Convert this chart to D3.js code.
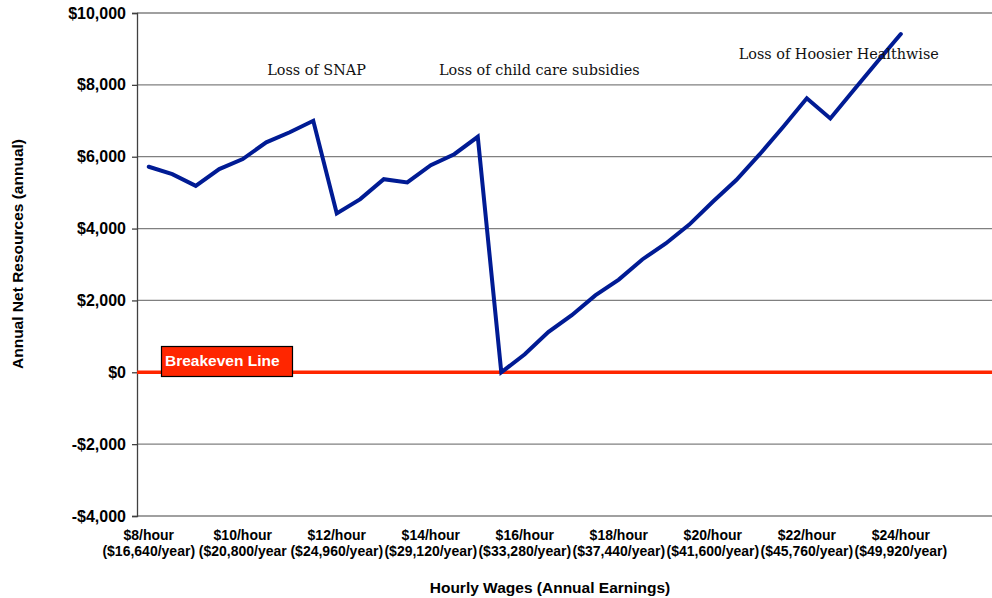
<!DOCTYPE html>
<html>
<head>
<meta charset="utf-8">
<script src="https://cdn.jsdelivr.net/npm/d3@7"></script>
<style>
  html, body { margin: 0; padding: 0; background: #fff; }
  svg { display: block; }
</style>
</head>
<body>
<svg id="chart" width="992" height="598"></svg>
<script>
// ---- Data ----
const wages = [8, 8.5, 9, 9.5, 10, 10.5, 11, 11.5, 12, 12.5, 13, 13.5, 14, 14.5, 15, 15.5,
               16, 16.5, 17, 17.5, 18, 18.5, 19, 19.5, 20, 20.5, 21, 21.5, 22, 22.5, 23, 23.5, 24];
const netResources = [5720, 5515, 5190, 5655, 5935, 6400, 6680, 7000, 4420, 4820, 5375, 5285,
                      5765, 6070, 6555, 0, 500, 1120, 1590, 2140, 2580, 3140, 3585, 4110,
                      4745, 5350, 6070, 6835, 7625, 7065, 7855, 8645, 9415];
const tickWages = [8, 10, 12, 14, 16, 18, 20, 22, 24];
const tickLine1 = ["$8/hour", "$10/hour", "$12/hour", "$14/hour", "$16/hour", "$18/hour", "$20/hour", "$22/hour", "$24/hour"];
const tickLine2 = ["($16,640/year)", "($20,800/year", "($24,960/year)", "($29,120/year)", "($33,280/year)",
                   "($37,440/year)", "($41,600/year)", "($45,760/year)", "($49,920/year)"];
const yTicks = [-4000, -2000, 0, 2000, 4000, 6000, 8000, 10000];
const annotations = [
  { wage: 11.57, value: 8280, text: "Loss of SNAP" },
  { wage: 16.31, value: 8280, text: "Loss of child care subsidies" },
  { wage: 22.68, value: 8720, text: "Loss of Hoosier Healthwise" }
];
const breakevenLabel = "Breakeven Line";

// ---- Layout ----
const svg = d3.select("#chart");
const pL = 137, pR = 992, pT = 13, pB = 516;

const x = d3.scaleLinear().domain([7.75, 25.94]).range([pL, pR]);
const y = d3.scaleLinear().domain([-4000, 10000]).range([pB, pT]);

const bold = "Liberation Sans, Arial, Helvetica, sans-serif";

// gridlines
svg.append("g")
  .selectAll("line")
  .data(yTicks)
  .join("line")
  .attr("x1", pL).attr("x2", pR)
  .attr("y1", d => y(d)).attr("y2", d => y(d))
  .attr("stroke", "#808080").attr("stroke-width", 1.3);

// y axis
const yAxis = svg.append("g")
  .attr("transform", `translate(${pL},0)`)
  .call(d3.axisLeft(y).tickValues(yTicks).tickSize(5).tickPadding(6)
    .tickFormat(d => (d < 0 ? "-$" : "$") + d3.format(",")(Math.abs(d))));
yAxis.select(".domain").attr("stroke", "#404040").attr("stroke-width", 1.3);
yAxis.selectAll(".tick line").attr("stroke", "#404040").attr("stroke-width", 1.3);
yAxis.selectAll(".tick text")
  .attr("font-family", bold).attr("font-weight", "bold").attr("font-size", 16).attr("fill", "#000");

// x tick labels
const xl = svg.append("g").selectAll("text")
  .data(tickWages)
  .join("text")
  .attr("text-anchor", "middle")
  .attr("font-family", bold).attr("font-weight", "bold").attr("font-size", 14)
  .attr("fill", "#000");
xl.append("tspan").attr("x", d => x(d)).attr("y", 540).text((d, i) => tickLine1[i]);
xl.append("tspan").attr("x", d => x(d)).attr("y", 556).text((d, i) => tickLine2[i]);

// axis titles
svg.append("text")
  .attr("x", 550).attr("y", 593)
  .attr("text-anchor", "middle")
  .attr("font-family", bold).attr("font-weight", "bold").attr("font-size", 15.5)
  .text("Hourly Wages (Annual Earnings)");
svg.append("text")
  .attr("transform", "translate(23,254) rotate(-90)")
  .attr("text-anchor", "middle")
  .attr("font-family", bold).attr("font-weight", "bold").attr("font-size", 15.5)
  .text("Annual Net Resources (annual)");

// breakeven line
svg.append("line")
  .attr("x1", pL).attr("x2", pR)
  .attr("y1", y(0)).attr("y2", y(0))
  .attr("stroke", "#ff2600").attr("stroke-width", 3.5);

// data line
const line = d3.line().x((d, i) => x(wages[i])).y(d => y(d));
svg.append("path")
  .datum(netResources)
  .attr("d", line)
  .attr("fill", "none")
  .attr("stroke", "#001b94")
  .attr("stroke-width", 4)
  .attr("stroke-linejoin", "miter")
  .attr("stroke-linecap", "round");

// breakeven label box
svg.append("rect")
  .attr("x", 161.5).attr("y", 346.5).attr("width", 131).attr("height", 30)
  .attr("fill", "#ff2600").attr("stroke", "#000").attr("stroke-width", 1.2);
svg.append("text")
  .attr("x", 165).attr("y", 366)
  .attr("font-family", bold).attr("font-weight", "bold").attr("font-size", 15.5)
  .attr("fill", "#fff")
  .text(breakevenLabel);

// annotations
svg.append("g").selectAll("text")
  .data(annotations)
  .join("text")
  .attr("x", d => x(d.wage)).attr("y", d => y(d.value))
  .attr("text-anchor", "middle")
  .attr("font-family", "DejaVu Serif, Liberation Serif, serif")
  .attr("font-size", 14.4)
  .attr("fill", "#111")
  .text(d => d.text);
</script>
</body>
</html>
